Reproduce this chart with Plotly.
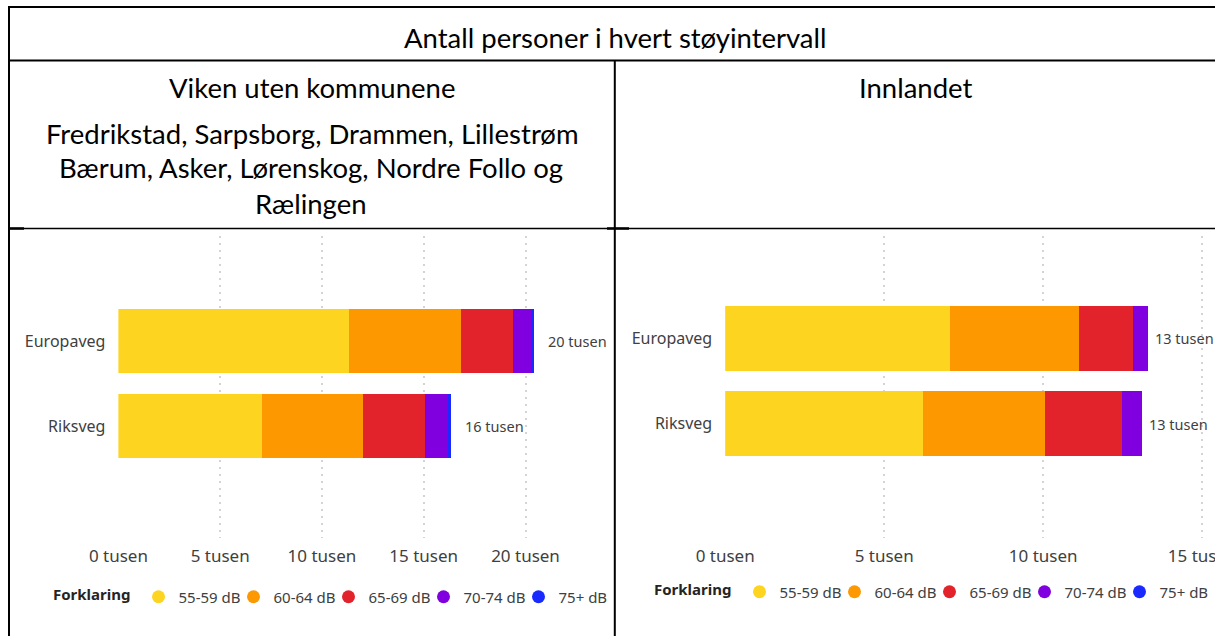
import plotly.graph_objects as go

W, H = 1215, 636

# ---------------- data (thousands of persons) ----------------
categories = ["Europaveg", "Riksveg"]
intervals = ["55-59 dB", "60-64 dB", "65-69 dB", "70-74 dB", "75+ dB"]
colors = ["#FDD420", "#FE9800", "#E2232B", "#8000E0", "#1A2AFF"]

# Viken (without the listed municipalities): [Europaveg, Riksveg]
viken_55_59 = [11.31, 7.05]
viken_60_64 = [5.51, 4.95]
viken_65_69 = [2.57, 3.05]
viken_70_74 = [0.88, 1.16]
viken_75_plus = [0.16, 0.11]

# Innlandet: [Europaveg, Riksveg]
innlandet_55_59 = [7.08, 6.21]
innlandet_60_64 = [4.04, 3.85]
innlandet_65_69 = [1.70, 2.42]
innlandet_70_74 = [0.47, 0.64]
innlandet_75_plus = [0.0, 0.0]

tick_values = [0, 5, 10, 15, 20]
tick_labels = ["0 tusen", "5 tusen", "10 tusen", "15 tusen", "20 tusen"]

main_title = "Antall personer i hvert støyintervall"
left_header = ["Viken uten kommunene",
               "Fredrikstad, Sarpsborg, Drammen, Lillestrøm",
               "Bærum, Asker, Lørenskog, Nordre Follo og",
               "Rælingen"]
right_header = "Innlandet"
legend_title = "Forklaring"

viken = [viken_55_59, viken_60_64, viken_65_69, viken_70_74, viken_75_plus]
innlandet = [innlandet_55_59, innlandet_60_64, innlandet_65_69,
             innlandet_70_74, innlandet_75_plus]

# ---------------- helpers ----------------
def fx(px):
    return px / W


def fy(py):
    return 1 - py / H


TICK_FONT = dict(family="Noto Sans", size=17, color="#404040")
CAT_FONT = dict(family="Noto Sans", size=16, color="#404040")
HEAD_FONT_FAMILY = "Lato"

fig = go.Figure()
annotations = []


def add_panel(series, xa, ya, xref, yref, legend_name, shift):
    for name, col, vals in zip(intervals, colors, series):
        fig.add_trace(go.Bar(
            y=categories, x=vals, orientation="h", name=name,
            marker=dict(color=col, line=dict(width=0)),
            xaxis=xa, yaxis=ya, showlegend=False,
            hovertemplate="%{y}<br>" + name + ": %{x:.2f} tusen<extra></extra>",
        ))
    for name, col in zip(intervals, colors):
        fig.add_trace(go.Scatter(
            x=[None], y=[None], mode="markers", name=name,
            marker=dict(color=col, size=13),
            xaxis=xa, yaxis=ya, legend=legend_name, showlegend=True,
        ))
    for i, cat in enumerate(categories):
        total = sum(s[i] for s in series)
        annotations.append(dict(
            x=total, y=cat, xref=xref, yref=yref, xanchor="left",
            yanchor="middle", xshift=shift, showarrow=False,
            text=f"{round(total)} tusen",
            font=dict(family="Noto Sans", size=14.5, color="#404040"),
        ))


add_panel(viken, "x", "y", "x", "y", "legend", 12)
add_panel(innlandet, "x2", "y2", "x2", "y2", "legend2", 5)

# ---------------- table headers ----------------
def head(text, x, y, size=27.5):
    annotations.append(dict(
        x=fx(x), y=fy(y), xref="paper", yref="paper", showarrow=False,
        xanchor="center", yanchor="middle", text=text,
        font=dict(family=HEAD_FONT_FAMILY, size=size, color="#000000"),
    ))


head(main_title, 615, 37)
head(left_header[0], 312, 88)
head(left_header[1], 312, 133)
head(left_header[2], 311, 168)
head(left_header[3], 311, 203)
head(right_header, 916, 88)

# ---------------- table borders ----------------
shapes = []


def hline(y, x0, x1, w):
    shapes.append(dict(type="line", xref="paper", yref="paper",
                       x0=fx(x0), x1=fx(x1), y0=fy(y), y1=fy(y),
                       line=dict(color="#000000", width=w)))


def vline(x, y0, y1, w):
    shapes.append(dict(type="line", xref="paper", yref="paper",
                       x0=fx(x), x1=fx(x), y0=fy(y0), y1=fy(y1),
                       line=dict(color="#000000", width=w)))


hline(7, 8, W, 2)
hline(60.5, 8, W, 2)
hline(228.5, 8, W, 1.3)
hline(228.5, 9, 24, 2.5)
hline(228.5, 607, 629, 2.5)
vline(9, 6, H, 2)
vline(614.8, 60, H, 2)

# ---------------- axes ----------------
px_per_k_left = 20.355
px_per_k_right = 31.8
x0_left, x1_left = 118.4, 560
x0_right, x1_right = 725.2, 1215
plot_top, plot_bottom = 236, 538

common_x = dict(
    tickvals=tick_values, ticktext=tick_labels, showgrid=True,
    gridcolor="#D4D4D4", griddash="1.5px,5.5px", gridwidth=1.5,
    zeroline=False, showline=False, ticks="", tickfont=TICK_FONT,
    ticklabelstandoff=6, fixedrange=True, automargin=False,
)
common_y = dict(
    categoryorder="array", categoryarray=["Riksveg", "Europaveg"],
    showgrid=False, zeroline=False, showline=False, ticks="",
    tickfont=CAT_FONT, ticklabelstandoff=12, fixedrange=True,
    automargin=False,
)

legend_common = dict(
    orientation="h", xanchor="left", yanchor="middle",
    traceorder="normal",
    bgcolor="rgba(0,0,0,0)", borderwidth=0,
    title=dict(text=f"<b>{legend_title}</b>", side="left",
               font=dict(family="Noto Sans", size=15, color="#252423")),
    font=dict(family="Noto Sans", size=15, color="#404040"),
    entrywidth=50, entrywidthmode="pixels", itemclick=False,
    itemdoubleclick=False,
)

fig.update_layout(
    width=W, height=H,
    margin=dict(l=0, r=0, t=0, b=0, pad=0, autoexpand=False),
    paper_bgcolor="white", plot_bgcolor="white",
    barmode="stack", bargap=0.243,
    showlegend=True,
    xaxis=dict(domain=[fx(x0_left), fx(x1_left)],
               range=[0, (x1_left - x0_left) / px_per_k_left],
               anchor="y", **common_x),
    yaxis=dict(domain=[fy(plot_bottom), fy(plot_top)],
               range=[-1.32, 2.24], anchor="x", **common_y),
    xaxis2=dict(domain=[fx(x0_right), 1.0],
                range=[0, (x1_right - x0_right) / px_per_k_right],
                anchor="y2", ticklabeloverflow="allow", **common_x),
    yaxis2=dict(domain=[fy(plot_bottom), fy(plot_top)],
                range=[-1.341, 2.2], anchor="x2", **common_y),
    legend=dict(x=fx(51), y=fy(597), **legend_common),
    legend2=dict(x=fx(652), y=fy(592), **legend_common),
    annotations=annotations,
    shapes=shapes,
)

fig.write_html("out.html", config={"displayModeBar": False},
               post_script="document.body.style.margin='0';")
